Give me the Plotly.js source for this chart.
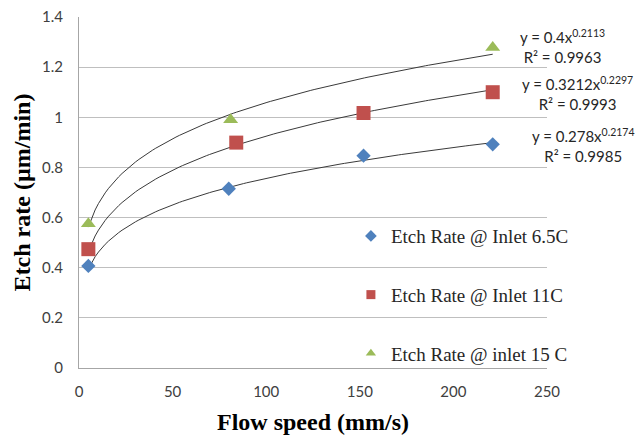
<!DOCTYPE html>
<html>
<head>
<meta charset="utf-8">
<script src="https://cdn.plot.ly/plotly-3.0.1.min.js"></script>
<style>html,body{margin:0;padding:0;background:#fff;}#chart{width:639px;height:435px;}</style>
</head>
<body>
<div id="chart"></div>
<script>
// Series data
const seriesNames = ["Etch Rate @ Inlet 6.5C", "Etch Rate @ Inlet 11C", "Etch Rate @ inlet 15 C"];
const x65 = [5, 80, 152, 221];
const y65 = [0.407, 0.715, 0.847, 0.892];
const x11 = [5, 84, 152, 221];
const y11 = [0.474, 0.899, 1.017, 1.100];
const x15 = [5, 81, 221];
const y15 = [0.575, 0.990, 1.278];
// Power trendline coefficients shown on the chart: y = a * x^b
const trendA = [0.278, 0.3212, 0.4];
const trendB = [0.2174, 0.2297, 0.2113];
const trendR2 = ["0.9985", "0.9993", "0.9963"];
const xTicks = [0, 50, 100, 150, 200, 250];
const yTicks = [0, 0.2, 0.4, 0.6, 0.8, 1, 1.2, 1.4];

const colors = ["#4f81bd", "#c0504d", "#9bbb59"];
const symbols = ["diamond", "square", "triangle-up"];
const sizes = [11, 14, 13];
const xs = [x65, x11, x15];
const ys = [y65, y11, y15];

const traces = [];
// trendlines
for (let i = 0; i < 3; i++) {
  const xmin = Math.min(...xs[i]), xmax = Math.max(...xs[i]);
  const tx = [], ty = [];
  const n = 120;
  for (let k = 0; k <= n; k++) {
    const xv = xmin + (xmax - xmin) * k / n;
    tx.push(xv);
    ty.push(trendA[i] * Math.pow(xv, trendB[i]));
  }
  traces.push({x: tx, y: ty, mode: "lines", line: {color: "#3a3a3a", width: 1}, showlegend: false, hoverinfo: "skip"});
}
// markers
for (let i = 0; i < 3; i++) {
  traces.push({x: xs[i], y: ys[i], mode: "markers", name: seriesNames[i], showlegend: false,
    marker: {symbol: symbols[i], size: sizes[i], color: colors[i]}});
}
// legend entries (small symbols as in the reference)
for (let i = 0; i < 3; i++) {
  traces.push({x: [null], y: [null], mode: "markers", name: seriesNames[i], legendgroup: "g" + i,
    marker: {symbol: symbols[i], size: 9, color: colors[i]}});
}

const annotations = [];
const eqPos = [[1.079, 0.635], [1.066, 0.782], [1.034, 0.917]];
for (let i = 0; i < 3; i++) {
  annotations.push({xref: "paper", yref: "paper", x: eqPos[i][0], y: eqPos[i][1], xanchor: "center", yanchor: "middle",
    text: "y = " + trendA[i] + "x<sup>" + trendB[i] + "</sup><br>R² = " + trendR2[i],
    showarrow: false, align: "center", font: {family: "Lato, Open Sans, sans-serif", size: 15, color: "#262626"}});
}

const layout = {
  width: 639, height: 435,
  margin: {l: 79, r: 92, t: 17, b: 67},
  paper_bgcolor: "#fff", plot_bgcolor: "#fff",
  showlegend: true,
  legend: {x: 0.581, y: 0.43, xanchor: "left", yanchor: "top", tracegroupgap: 31, bgcolor: "rgba(0,0,0,0)",
    font: {family: "Liberation Serif, Times New Roman, serif", size: 19, color: "#262626"}},
  xaxis: {range: [0, 250], tickvals: xTicks, ticktext: xTicks.map(String), showgrid: false, zeroline: false,
    showline: true, linecolor: "#a6a6a6", linewidth: 1, ticks: "", ticklen: 0, ticklabelstandoff: 10,
    tickfont: {family: "Lato, Open Sans, sans-serif", size: 15, color: "#404040"},
    title: {text: "Flow speed (mm/s)", standoff: 14, font: {family: "Liberation Serif, Times New Roman, serif", size: 24, weight: "bold", color: "#000"}}},
  yaxis: {range: [0, 1.4], tickvals: yTicks, ticktext: yTicks.map(String), showgrid: true, gridcolor: "#bfbfbf", gridwidth: 1,
    zeroline: false, showline: true, linecolor: "#a6a6a6", linewidth: 1, ticks: "", ticklen: 0, ticklabelstandoff: 12,
    tickfont: {family: "Lato, Open Sans, sans-serif", size: 15, color: "#404040"},
    title: {text: "Etch rate (µm/min)", standoff: 4, font: {family: "Liberation Serif, Times New Roman, serif", size: 24, weight: "bold", color: "#000"}}},
  annotations: annotations
};

Plotly.newPlot("chart", traces, layout, {staticPlot: true, displayModeBar: false});
</script>
</body>
</html>
